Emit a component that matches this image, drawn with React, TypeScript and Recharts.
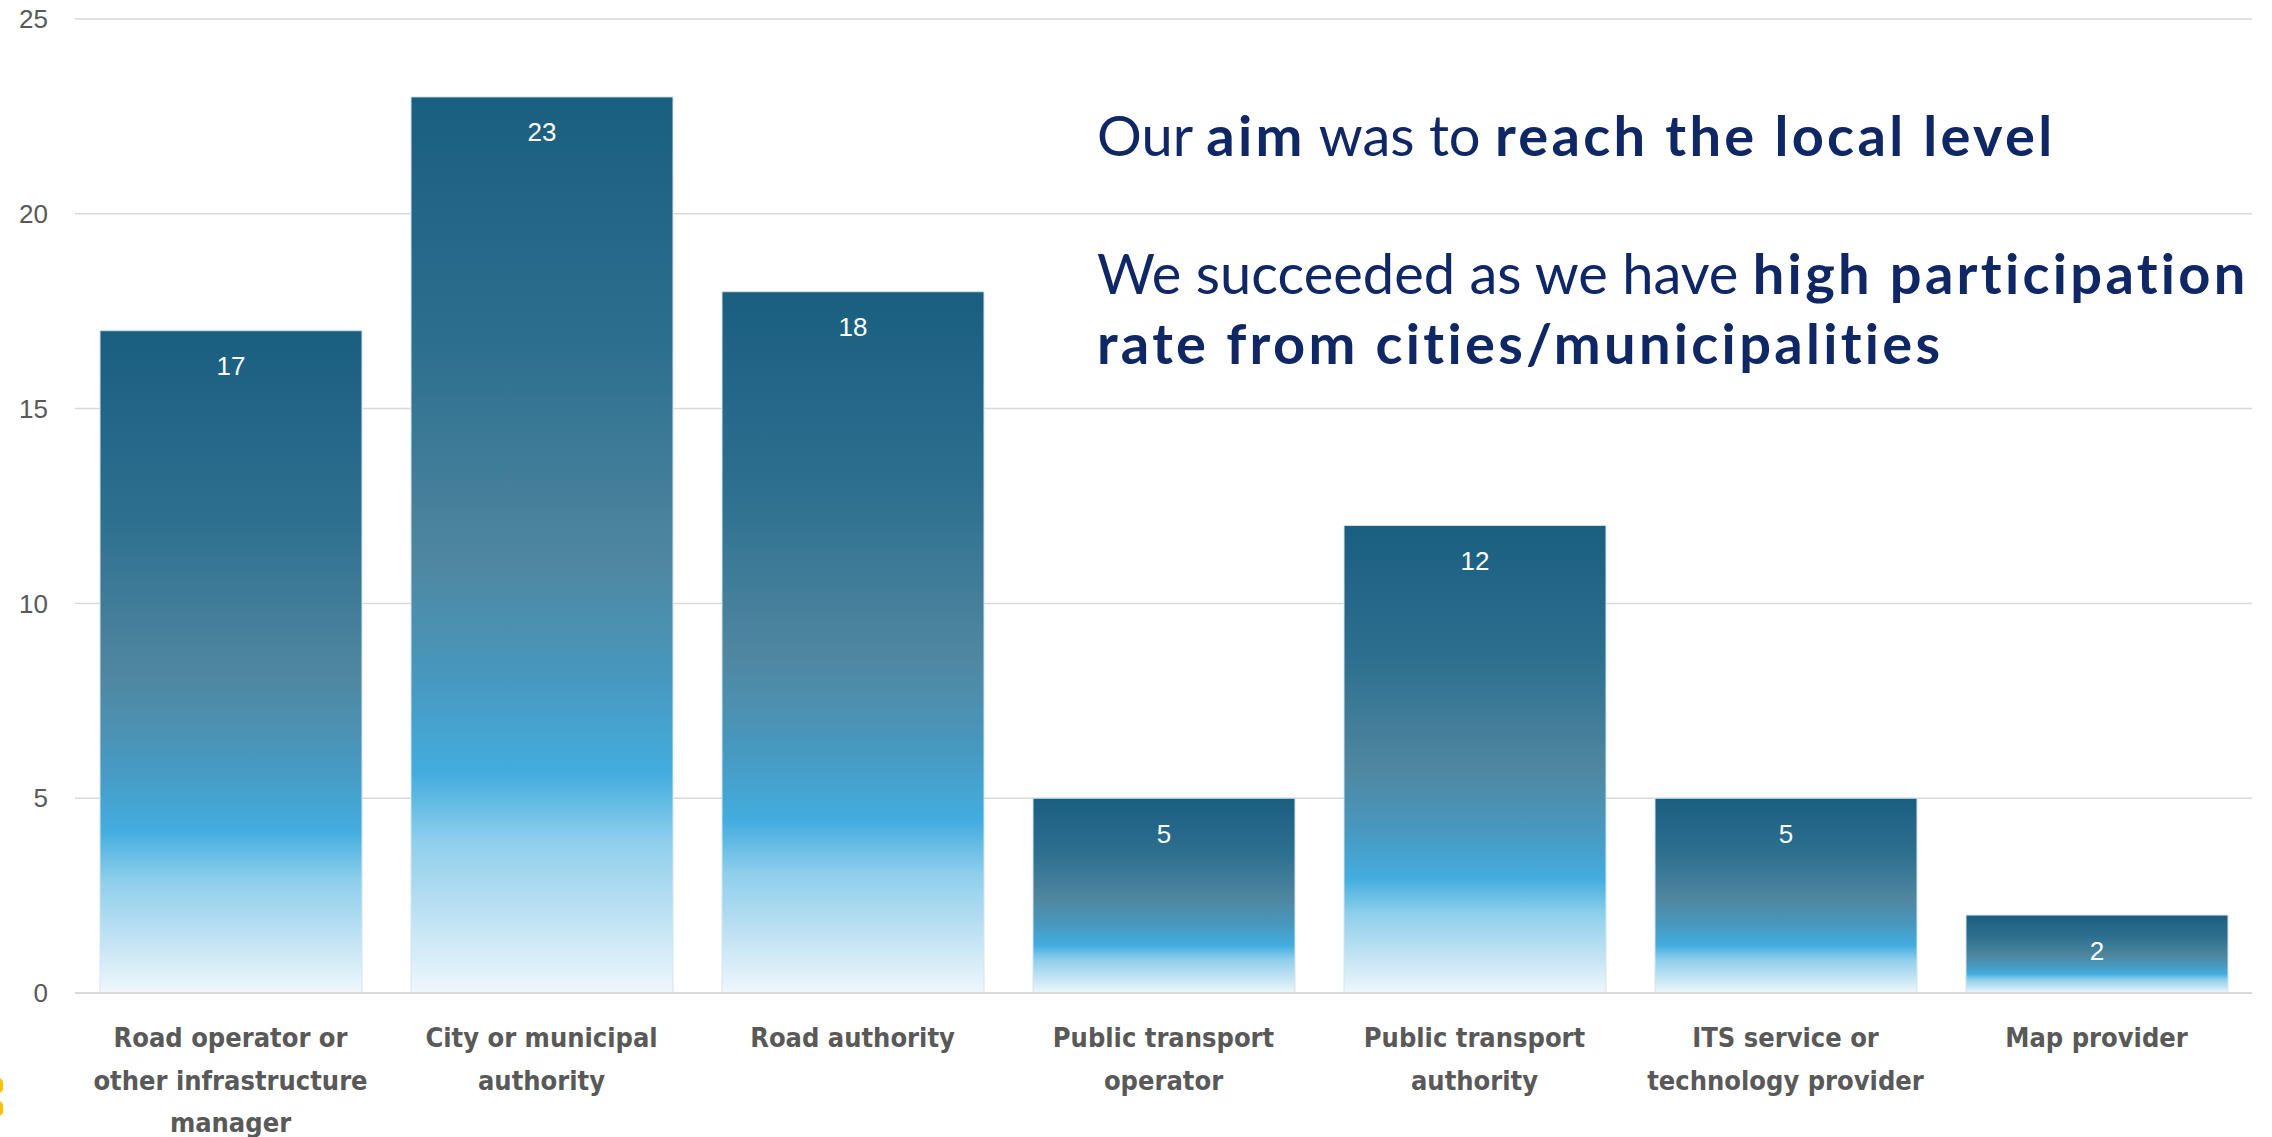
import React from 'react';
import { BarChart, Bar, XAxis, YAxis, CartesianGrid, LabelList } from 'recharts';

const categories: string[] = [
  'Road operator or\nother infrastructure\nmanager',
  'City or municipal\nauthority',
  'Road authority',
  'Public transport\noperator',
  'Public transport\nauthority',
  'ITS service or\ntechnology provider',
  'Map provider',
];
const counts: number[] = [17, 23, 18, 5, 12, 5, 2];
const yTicks: number[] = [0, 5, 10, 15, 20, 25];

const headline1: { text: string; bold: boolean }[] = [
  { text: 'Our ', bold: false },
  { text: 'aim', bold: true },
  { text: ' was to ', bold: false },
  { text: 'reach the local level', bold: true },
];
const headline2: { text: string; bold: boolean }[] = [
  { text: 'We succeeded as we have ', bold: false },
  { text: 'high participation', bold: true },
];
const headline3: { text: string; bold: boolean }[] = [
  { text: 'rate from cities/municipalities', bold: true },
];

const data = categories.map((c, i) => ({ category: c, count: counts[i] }));

const W = 2272;
const H = 1137;

const CategoryTick = (props: any) => {
  const { x, y, payload } = props;
  const lines = String(payload.value).split('\n');
  return (
    <g transform={`translate(${x},${y})`}>
      <text
        textAnchor="middle"
        fill="#595959"
        fontFamily="'DejaVu Sans Condensed', 'DejaVu Sans', sans-serif"
        fontStretch="condensed"
        fontWeight="bold"
        fontSize={27}
      >
        {lines.map((l, i) => (
          <tspan key={i} x={0} y={54 + i * 42.5}>
            {l}
          </tspan>
        ))}
      </text>
    </g>
  );
};

const Headline = ({ parts, y }: { parts: { text: string; bold: boolean }[]; y: number }) => (
  <text x={1097} y={y} fill="#0f2865" fontFamily="Lato, 'Open Sans', sans-serif" fontSize={56} style={{ whiteSpace: 'pre' }}>
    {parts.map((p, i) => (
      <tspan key={i} fontWeight={p.bold ? 'bold' : 'normal'} letterSpacing={p.bold ? 3.3 : 0}>
        {p.text}
      </tspan>
    ))}
  </text>
);

export default function App() {
  return (
    <div style={{ position: 'absolute', left: 0, top: 0, width: W, height: H, background: '#ffffff' }}>
      <BarChart
        width={W}
        height={H}
        data={data}
        margin={{ top: 19, right: 20, bottom: 0, left: 0 }}
        barSize={262}
      >
        <defs>
          <linearGradient id="barGrad" x1="0" y1="0" x2="0" y2="1">
            <stop offset="0" stopColor="#1a5e80" />
            <stop offset="0.28" stopColor="#2d6f8f" />
            <stop offset="0.52" stopColor="#4f87a0" />
            <stop offset="0.65" stopColor="#4898bf" />
            <stop offset="0.755" stopColor="#43addf" />
            <stop offset="0.83" stopColor="#8ecfec" />
            <stop offset="0.9" stopColor="#b6def2" />
            <stop offset="1" stopColor="#eff7fc" />
          </linearGradient>
        </defs>
        <CartesianGrid vertical={false} stroke="#d9d9d9" strokeWidth={1.5} />
        <XAxis
          dataKey="category"
          interval={0}
          height={144}
          tickLine={false}
          tickSize={0}
          tickMargin={0}
          axisLine={{ stroke: '#d9d9d9', strokeWidth: 2 }}
          tick={<CategoryTick />}
        />
        <YAxis
          domain={[0, 25]}
          ticks={yTicks}
          width={75}
          axisLine={false}
          tickLine={false}
          tickSize={0}
          tickMargin={27}
          tick={{ fill: '#595959', fontSize: 26, fontFamily: "'Liberation Sans', Arial, sans-serif" }}
        />
        <Bar dataKey="count" fill="url(#barGrad)" stroke="#d3e4ee" strokeWidth={1} isAnimationActive={false}>
          <LabelList
            dataKey="count"
            position="insideTop"
            offset={26}
            fill="#ffffff"
            fontSize={26}
            fontFamily="'Liberation Sans', Arial, sans-serif"
          />
        </Bar>
      </BarChart>
      <svg
        width={W}
        height={H}
        style={{ position: 'absolute', left: 0, top: 0, pointerEvents: 'none' }}
      >
        <Headline parts={headline1} y={156} />
        <Headline parts={headline2} y={294} />
        <Headline parts={headline3} y={364} />
        <path d="M0,1078 L3,1081 L3,1090 L0,1093 Z" fill="#ffc000" />
        <path d="M0,1101 L3,1104 L3,1113 L0,1116 Z" fill="#ffc000" />
      </svg>
    </div>
  );
}
